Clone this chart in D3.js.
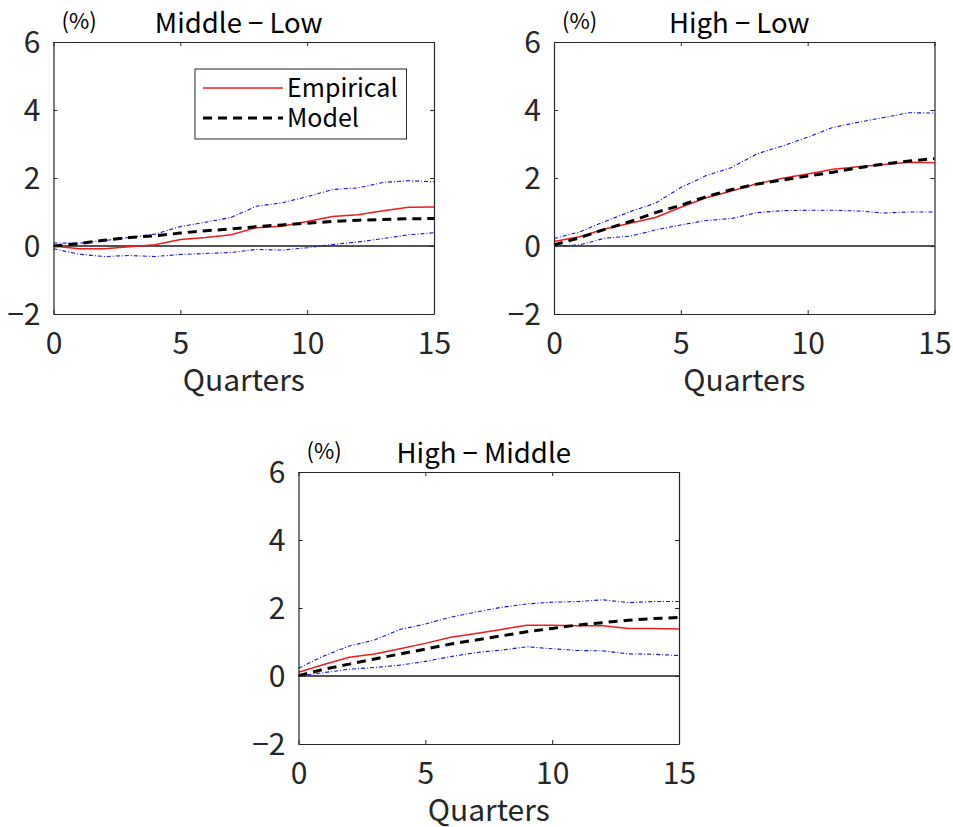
<!DOCTYPE html>
<html lang="en">
<head>
	<meta charset="UTF-8">
	<title>Differences by group</title>
	<style>
		body { margin: 0; background: #fff; }
		.f-svg { background-color: #fff; }
		text {
			font-family: "Noto Sans CJK JP", "Noto Sans", sans-serif;
			fill: #262626;
		}
		.tick-lbl { font-size: 30px; }
		.ttl { font-size: 27.5px; fill: #000; }
		.unit { font-size: 22px; fill: #000; }
		.xlab { font-size: 30px; }
		.leg { font-size: 25px; fill: #000; }
	</style>
	<script src="https://cdnjs.cloudflare.com/ajax/libs/d3/7.8.5/d3.min.js"></script>
</head>
<body>
	<script type="text/javascript">

		// quarters 0..15
		var quarters = d3.range(0, 16);
		var xTicks = [0, 5, 10, 15];
		var yTicks = [-2, 0, 2, 4, 6];
		var titles = ["Middle \u2212 Low", "High \u2212 Low", "High \u2212 Middle"];

		// Middle - Low
		var ml_emp   = [0.0, -0.08, -0.08, -0.02, 0.04, 0.19, 0.25, 0.33, 0.54, 0.58, 0.72, 0.87, 0.92, 1.04, 1.14, 1.15];
		var ml_model = [0.0, 0.07, 0.17, 0.25, 0.30, 0.38, 0.45, 0.50, 0.57, 0.62, 0.67, 0.72, 0.76, 0.78, 0.80, 0.81];
		var ml_upper = [0.09, 0.08, 0.16, 0.25, 0.35, 0.57, 0.70, 0.84, 1.17, 1.27, 1.45, 1.66, 1.71, 1.87, 1.92, 1.89];
		var ml_lower = [-0.08, -0.24, -0.31, -0.28, -0.31, -0.25, -0.22, -0.19, -0.10, -0.12, -0.05, 0.04, 0.12, 0.22, 0.33, 0.39];

		// High - Low
		var hl_emp   = [0.13, 0.27, 0.50, 0.67, 0.84, 1.14, 1.42, 1.62, 1.83, 1.99, 2.12, 2.26, 2.33, 2.40, 2.46, 2.45];
		var hl_model = [0.03, 0.24, 0.49, 0.72, 0.98, 1.20, 1.45, 1.66, 1.82, 1.94, 2.06, 2.17, 2.30, 2.41, 2.50, 2.57];
		var hl_upper = [0.22, 0.41, 0.72, 1.01, 1.26, 1.72, 2.07, 2.31, 2.71, 2.94, 3.20, 3.49, 3.64, 3.78, 3.92, 3.91];
		var hl_lower = [0.0, 0.03, 0.23, 0.29, 0.47, 0.62, 0.75, 0.81, 0.98, 1.04, 1.05, 1.05, 1.03, 0.97, 1.0, 1.0];

		// High - Middle
		var hm_emp   = [0.11, 0.34, 0.55, 0.65, 0.80, 0.96, 1.14, 1.25, 1.37, 1.49, 1.49, 1.48, 1.48, 1.40, 1.40, 1.38];
		var hm_model = [0.01, 0.20, 0.35, 0.50, 0.65, 0.79, 0.94, 1.06, 1.18, 1.30, 1.40, 1.50, 1.57, 1.64, 1.69, 1.72];
		var hm_upper = [0.23, 0.59, 0.88, 1.06, 1.37, 1.53, 1.73, 1.88, 2.02, 2.12, 2.17, 2.19, 2.24, 2.16, 2.19, 2.19];
		var hm_lower = [0.0, 0.10, 0.20, 0.25, 0.32, 0.43, 0.57, 0.69, 0.76, 0.86, 0.80, 0.75, 0.74, 0.65, 0.64, 0.60];

		const w = 953,
			  h = 827;
		const pw = 380.5,
			  ph = 272;

		const svg = d3.select("body")
			.append("svg")
			.attr("width", w)
			.attr("height", h)
			.attr("class", "f-svg");

		var panels = [
			{x: 53.5,  y: 42,  title: titles[0], emp: ml_emp, model: ml_model, up: ml_upper, lo: ml_lower, legend: true},
			{x: 554,   y: 42,  title: titles[1], emp: hl_emp, model: hl_model, up: hl_upper, lo: hl_lower},
			{x: 298.5, y: 472, title: titles[2], emp: hm_emp, model: hm_model, up: hm_upper, lo: hm_lower}
		];

		var xScale = d3.scaleLinear().domain([0, 15]).range([0, pw]);
		var yScale = d3.scaleLinear().domain([-2, 6]).range([ph, 0]);

		var line = d3.line()
			.x((d, i) => xScale(quarters[i]))
			.y(d => yScale(d));

		panels.forEach(function(p) {
			var g = svg.append("g").attr("transform", "translate(" + p.x + "," + p.y + ")");

			// zero line
			g.append("line")
				.attr("x1", 0).attr("x2", pw)
				.attr("y1", yScale(0)).attr("y2", yScale(0))
				.attr("stroke", "#1a1a1a").attr("stroke-width", 1.3);

			// bands
			[p.up, p.lo].forEach(function(s) {
				g.append("path").datum(s)
					.attr("d", line)
					.attr("fill", "none")
					.attr("stroke", "#1010e0")
					.attr("stroke-width", 1.1)
					.attr("stroke-dasharray", "4,2,1,2");
			});

			g.append("path").datum(p.emp)
				.attr("d", line)
				.attr("fill", "none")
				.attr("stroke", "#ee1c1c")
				.attr("stroke-width", 1.5);

			g.append("path").datum(p.model)
				.attr("d", line)
				.attr("fill", "none")
				.attr("stroke", "#000")
				.attr("stroke-width", 3)
				.attr("stroke-dasharray", "9,6");

			// axes, ticks inward on all sides
			var axB = d3.axisBottom(xScale).tickValues(xTicks).tickSizeInner(-4).tickSizeOuter(0);
			var axT = d3.axisTop(xScale).tickValues(xTicks).tickSizeInner(-4).tickSizeOuter(0).tickFormat("");
			var axL = d3.axisLeft(yScale).tickValues(yTicks).tickSizeInner(-4).tickSizeOuter(0).tickPadding(14)
				.tickFormat(d => d < 0 ? "\u2212" + Math.abs(d) : d);
			var axR = d3.axisRight(yScale).tickValues(yTicks).tickSizeInner(-4).tickSizeOuter(0).tickFormat("");

			g.append("g").attr("class", "Axis x").attr("transform", "translate(0," + ph + ")").call(axB);
			g.append("g").attr("class", "Axis").call(axT);
			g.append("g").attr("class", "Axis y").call(axL);
			g.append("g").attr("class", "Axis").attr("transform", "translate(" + pw + ",0)").call(axR);

			g.selectAll(".Axis path").attr("stroke", "#262626").attr("stroke-width", 1.2);
			g.selectAll(".Axis line").attr("stroke", "#262626");
			g.selectAll(".Axis").attr("font-size", null).attr("font-family", null);
			g.selectAll(".Axis text")
				.attr("class", "tick-lbl")
				.attr("fill", "#262626");
			g.selectAll(".Axis.x text").attr("dy", 0).attr("y", 40);
			g.selectAll(".Axis.y text").attr("dy", "0.36em").attr("x", -13);

			g.append("text").attr("class", "ttl")
				.attr("x", pw / 2 - 5).attr("y", -9)
				.attr("text-anchor", "middle")
				.text(p.title);

			g.append("text").attr("class", "unit")
				.attr("x", 8).attr("y", -13)
				.text("(%)");

			g.append("text").attr("class", "xlab")
				.attr("x", pw / 2 - 0).attr("y", ph + 77)
				.attr("text-anchor", "middle")
				.text("Quarters");

			if (p.legend) {
				var lg = g.append("g").attr("transform", "translate(141.5,27)");
				lg.append("rect").attr("width", 211.5).attr("height", 70)
					.attr("fill", "#fff").attr("stroke", "#262626").attr("stroke-width", 1);
				lg.append("line").attr("x1", 8).attr("x2", 88).attr("y1", 19).attr("y2", 19)
					.attr("stroke", "#ee1c1c").attr("stroke-width", 1.5);
				lg.append("line").attr("x1", 8).attr("x2", 88).attr("y1", 49).attr("y2", 49)
					.attr("stroke", "#000").attr("stroke-width", 3).attr("stroke-dasharray", "9,6");
				lg.append("text").attr("class", "leg").attr("x", 92).attr("y", 28).text("Empirical");
				lg.append("text").attr("class", "leg").attr("x", 92).attr("y", 58).text("Model");
			}
		});

	</script>
</body>
</html>
